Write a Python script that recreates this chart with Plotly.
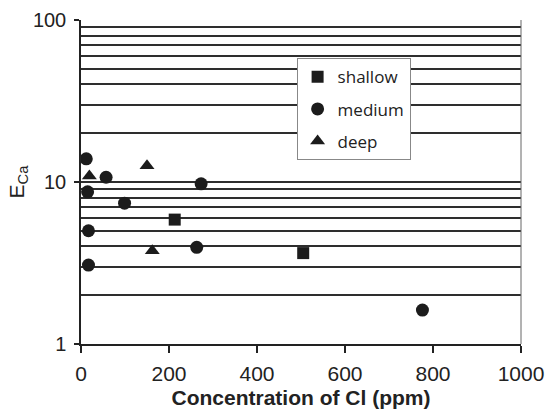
import plotly.graph_objects as go

# Data
shallow_x = [213, 505]
shallow_y = [5.86, 3.64]

medium_x = [12, 57, 15, 99, 273, 17, 263, 17, 776]
medium_y = [13.9, 10.7, 8.7, 7.4, 9.75, 5.0, 3.95, 3.07, 1.62]

deep_x = [19, 150, 162]
deep_y = [10.9, 12.6, 3.77]

x_ticks = [0, 200, 400, 600, 800, 1000]
y_ticks = [1, 10, 100]

MARK = "#1c1c1c"
GRID = "#2e2e2e"
FONT = "Liberation Sans, Arial, sans-serif"

fig = go.Figure()
fig.add_trace(go.Scatter(x=shallow_x, y=shallow_y, mode="markers", name="shallow",
                         legendgroup="a",
                         marker=dict(symbol="square", size=12, color=MARK)))
fig.add_trace(go.Scatter(x=medium_x, y=medium_y, mode="markers", name="medium",
                         legendgroup="b",
                         marker=dict(symbol="circle", size=13, color=MARK)))
fig.add_trace(go.Scatter(x=deep_x, y=deep_y, mode="markers", name="deep",
                         legendgroup="c",
                         marker=dict(symbol="triangle-up", size=13, color=MARK)))

fig.update_layout(
    width=546, height=419,
    margin=dict(l=81, r=25, t=20, b=75, autoexpand=False),
    paper_bgcolor="white", plot_bgcolor="white",
    font=dict(family=FONT, color="#222", size=20),
    showlegend=True,
    legend=dict(x=0.49, y=0.882, xanchor="left", yanchor="top",
                bgcolor="white", bordercolor="#888", borderwidth=1,
                font=dict(family="Open Sans, sans-serif", size=17, color="#222"),
                tracegroupgap=7, itemwidth=30),
    xaxis=dict(range=[0, 1000], tickvals=x_ticks, ticks="outside", ticklen=7,
               tickwidth=1.5, tickcolor="#222", automargin=False,
               showline=True, linecolor="#222", linewidth=1.5,
               showgrid=False, zeroline=False,
               tickfont=dict(size=21), ticklabelstandoff=3,
               title=dict(text="<b>Concentration of Cl (ppm)</b>",
                          font=dict(size=21), standoff=6)),
    xaxis2=dict(range=[0, 1000], overlaying="x", anchor="y", matches="x",
                tickvals=x_ticks, ticks="inside", ticklen=7, tickwidth=1.5,
                tickcolor="#222", showticklabels=False, showgrid=False,
                zeroline=False, showline=False, automargin=False),
    yaxis=dict(type="log", range=[0, 2], tickvals=y_ticks,
               ticktext=["1", "10", "100"], automargin=False,
               ticks="outside", ticklen=5, tickwidth=1.5, tickcolor="#222",
               showline=True, linecolor="#222", linewidth=1.5,
               showgrid=True, gridcolor=GRID, gridwidth=1.5,
               minor=dict(dtick="D1", showgrid=True, gridcolor=GRID,
                          gridwidth=1.5, ticks=""),
               zeroline=False, tickfont=dict(size=20), ticklabelstandoff=4,
               title=dict(text="E<sub>Ca</sub>", font=dict(size=21), standoff=3)),
    shapes=[dict(type="line", xref="paper", yref="paper", x0=1, x1=1, y0=0, y1=1,
                 line=dict(color="#666", width=1))],
)

fig.write_html("out.html",
               config={"displayModeBar": False},
               post_script="document.body.style.margin='0';document.body.style.overflow='hidden';")
